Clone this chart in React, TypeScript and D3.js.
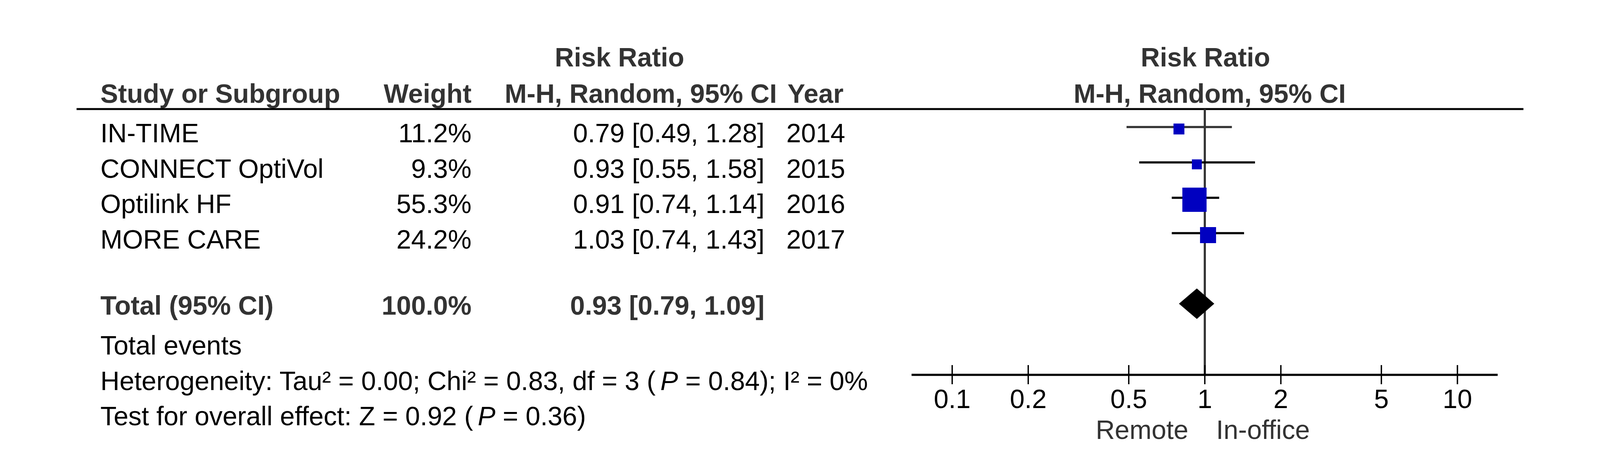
import * as d3 from "d3";

// study rows
const studies = ["IN-TIME", "CONNECT OptiVol", "Optilink HF", "MORE CARE"];
const weights = [11.2, 9.3, 55.3, 24.2];
const ratios = [0.79, 0.93, 0.91, 1.03];
const lowers = [0.49, 0.55, 0.74, 0.74];
const uppers = [1.28, 1.58, 1.14, 1.43];
const years = [2014, 2015, 2016, 2017];

// pooled estimate
const totalWeight = 100.0;
const totalRatio = 0.93;
const totalLower = 0.79;
const totalUpper = 1.09;

const axisTicks = [0.1, 0.2, 0.5, 1, 2, 5, 10];

const W = 4098;
const H = 1205;
const FONT = "'Liberation Sans', Arial, Helvetica, sans-serif";
const FS = 67.8;
const HEAD = "#333333";

const fmt2 = d3.format(".2f");
const ciText = (r: number, lo: number, hi: number) =>
  `${fmt2(r)} [${fmt2(lo)}, ${fmt2(hi)}]`;

export default function App() {
  const x = d3.scaleLog().domain([0.1, 10]).range([2437.6, 3731]);
  const rowY = d3.scaleLinear().domain([0, 1]).range([325, 415.5]);
  const boxSize = d3.scaleSqrt().domain([0, 55.3]).range([0, 62]);

  const col = { name: 257, weight: 1207, ci: 1957, year: 2013 };
  const totalY = 777;
  const axisY = 959;
  const headerLineY = 279;

  const diamond = [
    [x(totalLower), totalY],
    [x(totalRatio), totalY - 39],
    [x(totalUpper), totalY],
    [x(totalRatio), totalY + 39],
  ]
    .map((p) => p.join(","))
    .join(" ");

  return (
    <svg
      width={W}
      height={H}
      style={{ position: "absolute", left: 0, top: 0, background: "#fff" }}
      fontFamily={FONT}
      fontSize={FS}
    >
      {/* headers */}
      <g fill={HEAD} fontWeight="bold">
        <text x={1586} y={170} textAnchor="middle">Risk Ratio</text>
        <text x={col.name} y={263}>Study or Subgroup</text>
        <text x={col.weight} y={263} textAnchor="end">Weight</text>
        <text x={1292} y={263}>M-H, Random, 95% CI</text>
        <text x={2016} y={263}>Year</text>
        <text x={3086} y={170} textAnchor="middle">Risk Ratio</text>
        <text x={3097} y={263} textAnchor="middle">M-H, Random, 95% CI</text>
      </g>
      <line x1={196} x2={3900} y1={headerLineY} y2={headerLineY} stroke="#000" strokeWidth={5} />

      {/* line of no effect */}
      <line x1={x(1)} x2={x(1)} y1={headerLineY} y2={axisY} stroke="#333" strokeWidth={5.5} />

      {/* study rows */}
      {studies.map((s, i) => {
        const cy = rowY(i);
        const ty = cy + 39;
        const b = boxSize(weights[i]);
        return (
          <g key={s}>
            <text x={col.name} y={ty} fill="#000">{s}</text>
            <text x={col.weight} y={ty} textAnchor="end" fill="#000">
              {weights[i].toFixed(1)}%
            </text>
            <text x={col.ci} y={ty} textAnchor="end" fill="#000">
              {ciText(ratios[i], lowers[i], uppers[i])}
            </text>
            <text x={col.year} y={ty} fill="#000">{years[i]}</text>
            <line
              x1={x(lowers[i])}
              x2={x(uppers[i])}
              y1={cy}
              y2={cy}
              stroke={i === 0 ? "#333" : "#000"}
              strokeWidth={5.5}
            />
            <rect
              x={x(ratios[i]) - b / 2}
              y={cy + 5 - b / 2}
              width={b}
              height={b}
              fill="#0000c0"
            />
          </g>
        );
      })}

      {/* total row */}
      <g fill={HEAD} fontWeight="bold">
        <text x={col.name} y={805}>Total (95% CI)</text>
        <text x={col.weight} y={805} textAnchor="end">{totalWeight.toFixed(1)}%</text>
        <text x={col.ci} y={805} textAnchor="end">
          {ciText(totalRatio, totalLower, totalUpper)}
        </text>
      </g>
      <polygon points={diamond} fill="#000" />

      <g fill="#000">
        <text x={col.name} y={907}>Total events</text>
        <text x={col.name} y={998}>
          {"Heterogeneity: Tau² = 0.00; Chi² = 0.83, df = 3 ("}
          <tspan dx={12} fontStyle="italic">P</tspan>
          {" = 0.84); I² = 0%"}
        </text>
        <text x={col.name} y={1088}>
          {"Test for overall effect: Z = 0.92 ("}
          <tspan dx={12} fontStyle="italic">P</tspan>
          {" = 0.36)"}
        </text>
      </g>

      {/* axis */}
      <line x1={x(0.1) - 104} x2={x(10) + 103} y1={axisY} y2={axisY} stroke="#000" strokeWidth={5.5} />
      {axisTicks.map((t) => (
        <g key={t}>
          <line x1={x(t)} x2={x(t)} y1={axisY - 25} y2={axisY + 24} stroke="#000" strokeWidth={3.5} />
          <text x={x(t)} y={1044} textAnchor="middle" fill="#000">{t}</text>
        </g>
      ))}
      <text x={x(1) - 42} y={1123} textAnchor="end" fill={HEAD}>Remote</text>
      <text x={x(1) + 29} y={1123} fill={HEAD}>In-office</text>
    </svg>
  );
}
